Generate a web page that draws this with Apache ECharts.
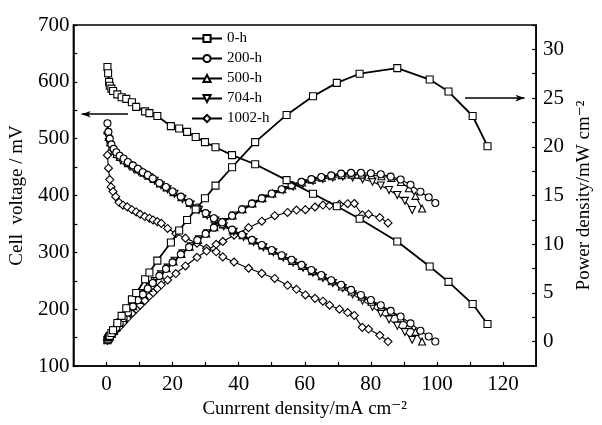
<!DOCTYPE html>
<html><head><meta charset="utf-8">
<script src="https://cdn.jsdelivr.net/npm/echarts@6/dist/echarts.min.js"></script>
<style>html,body{margin:0;padding:0;background:#fff}#c{width:602px;height:425px}</style>
</head><body><div id="c"></div>
<script>
const seriesNames = ['0-h','200-h','500-h','704-h','1002-h'];
const xTickLabels = [0,20,40,60,80,100,120];
const leftTickLabels = [100,200,300,400,500,600,700];
const rightTickLabels = [0,5,10,15,20,25,30];

const current0h = [0.3,0.5,0.8,1.0,1.5,2.0,3.3,4.6,6.0,7.7,9.0,11.7,13.0,15.4,19.5,22.0,24.4,27.0,29.8,33.0,38.0,45.0,54.5,62.5,69.7,76.6,88.0,97.8,103.5,110.8,115.3];
const voltage0h = [626,615,600,593,588,584,578,573,570,564,556,548,545,540,522,518,512,503,494,485,471,455,427,403,381,359,319,275,248,209,174];
const power0h = [0.19,0.31,0.48,0.59,0.88,1.17,1.91,2.64,3.42,4.34,5.00,6.41,7.09,8.32,10.18,11.40,12.49,13.58,14.72,16.01,17.90,20.48,23.27,25.19,26.56,27.50,28.07,26.90,25.67,23.16,20.06];

const current200h = [0.3,0.6,1.0,1.5,2.2,3.0,4.0,5.2,6.5,8.0,9.5,11,12.5,14,16,18,20,22.5,25,27.5,30,32.5,35,38,41,44,47,50,53,56,59,62,65,68,71,74,77,80,83,86,89,92,95,97.5,99.5];
const voltage200h = [527,512,500,490,482,476,470,465,459,453,447,441,436,430,422,415,407,398,388,379,369,360,350,340,331,322,313,304,295,287,278,269,260,251,243,234,225,216,207,197,187,175,162,152,143];
const power200h = [0.16,0.31,0.50,0.74,1.06,1.43,1.88,2.42,2.98,3.62,4.25,4.85,5.45,6.02,6.75,7.47,8.14,8.96,9.70,10.42,11.07,11.70,12.25,12.92,13.57,14.17,14.71,15.20,15.64,16.07,16.40,16.68,16.90,17.07,17.25,17.32,17.33,17.28,17.18,16.94,16.64,16.10,15.39,14.82,14.23];

const current500h = [0.3,0.7,1.1,1.6,2.3,3.1,4.1,5.3,6.6,8.1,9.6,11.2,12.7,14.3,16.2,18.2,20.3,22.7,25.2,27.7,30.2,32.7,35.2,38.2,41.2,44.2,47.2,50.2,53.2,56.2,59.2,62.2,65.2,68.2,71.2,74.2,77.2,80.2,83.2,86.2,89.1,91.5,93.5,95.5];
const voltage500h = [515,503,494,486,479,473,468,462,457,451,446,440,435,429,421,414,406,397,387,378,368,359,349,339,330,321,312,303,294,285,276,267,258,249,240,231,222,213,204,195,184,172,160,143];
const power500h = [0.15,0.35,0.54,0.78,1.10,1.47,1.92,2.45,3.02,3.65,4.28,4.93,5.52,6.13,6.82,7.53,8.24,9.01,9.75,10.47,11.11,11.74,12.28,12.95,13.60,14.19,14.73,15.21,15.64,16.02,16.34,16.61,16.82,16.98,17.09,17.14,17.14,17.08,16.97,16.81,16.39,15.74,14.96,13.66];

const current704h = [0.3,0.7,1.2,1.8,2.5,3.3,4.3,5.5,6.8,8.3,9.8,11.4,13,14.6,16.5,18.5,20.6,23,25.5,28,30.5,33,35.5,38.5,41.5,44.5,47.5,50.5,53.5,56.5,59.5,62.5,65.5,68.5,71.5,74.5,77.5,80.5,83,85.5,88,90.3,92.5];
const voltage704h = [505,494,486,479,473,468,463,458,453,447,442,437,432,426,418,411,403,394,384,375,365,356,346,336,327,318,309,300,291,282,273,264,255,246,237,226,215,204,193,182,171,160,146];
const power704h = [0.15,0.35,0.58,0.86,1.18,1.54,1.99,2.52,3.08,3.71,4.33,4.98,5.62,6.22,6.90,7.60,8.30,9.06,9.79,10.50,11.13,11.75,12.28,12.94,13.57,14.15,14.68,15.15,15.57,15.93,16.24,16.50,16.70,16.85,16.95,16.84,16.66,16.42,16.02,15.56,15.05,14.45,13.51];

const current1002h = [0.3,0.6,1.0,1.4,2.0,2.8,3.8,5.0,6.3,7.7,9.0,10.2,11.6,13.0,14.1,15.4,16.6,18.5,21.0,23.9,27.4,30.3,33.2,35.2,38.6,43.0,47.0,50.9,54.8,57.5,60.2,63.1,65.5,67.5,70.5,73.0,75.0,77.4,79.3,82.7,85.2];
const voltage1002h = [471,448,428,415,407,398,388,383,380,375,371,367,363,360,357,354,351,342,333,325,316,307,301,292,283,272,263,254,242,235,225,219,214,207,200,194,189,168,165,154,143];
const power1002h = [0.14,0.27,0.43,0.58,0.81,1.11,1.47,1.92,2.39,2.89,3.34,3.74,4.21,4.68,5.03,5.45,5.83,6.33,6.99,7.77,8.66,9.30,9.99,10.28,10.92,11.70,12.36,12.93,13.26,13.51,13.55,13.82,14.02,13.97,14.10,14.16,14.18,13.00,13.08,12.74,12.18];

const FONT = '"Liberation Serif","DejaVu Serif",serif';
const styles = [
  {symbol:'rect', size:7, rotate:0, width:1.8},
  {symbol:'circle', size:7, rotate:0, width:1.1},
  {symbol:'triangle', size:7, rotate:0, width:1.1},
  {symbol:'triangle', size:7, rotate:180, width:1.1},
  {symbol:'diamond', size:8, rotate:0, width:1.1}
];
const groups = [
  [current0h, voltage0h, power0h],
  [current200h, voltage200h, power200h],
  [current500h, voltage500h, power500h],
  [current704h, voltage704h, power704h],
  [current1002h, voltage1002h, power1002h]
];

function mk(i, axis, ys) {
  const s = styles[i];
  const xs = groups[i][0];
  return {
    type:'line', name:seriesNames[i], yAxisIndex:axis,
    data: xs.map((x,k)=>[x, ys[k]]),
    symbol:s.symbol, symbolSize:s.size, symbolRotate:s.rotate, showAllSymbol:true,
    lineStyle:{color:'#000', width:s.width},
    itemStyle:{color:'#fff', borderColor:'#000', borderWidth:1.1},
    emphasis:{disabled:true}, animation:false, z: 10 - i
  };
}
const series = [];
for (let i = 0; i < 5; i++) {
  series.push(mk(i, 0, groups[i][1]));
}
for (let i = 0; i < 5; i++) {
  series.push(mk(i, 1, groups[i][2]));
}
// annotation arrows
series[0].markLine = {
  silent:true, symbol:['none','arrow'], symbolSize:[5,9], label:{show:false},
  lineStyle:{color:'#000', width:1.5, type:'solid'},
  data:[[{coord:[6.5,543]},{coord:[-7.5,543]}]]
};
series[5].markLine = {
  silent:true, symbol:['none','arrow'], symbolSize:[5,9], label:{show:false},
  lineStyle:{color:'#000', width:1.5, type:'solid'},
  data:[[{coord:[108.5,25]},{coord:[126.5,25]}]]
};

const tickRange = (a,b,s)=>{const r=[];for(let v=a;v<=b+1e-9;v+=s)r.push(+v.toFixed(2));return r;};

const chart = echarts.init(document.getElementById('c'), null, {renderer:'canvas'});
chart.setOption({
  animation:false,
  backgroundColor:'#fff',
  textStyle:{fontFamily:FONT},
  grid:{left:73, right:53, top:25, bottom:59, show:true, borderColor:'#000', borderWidth:1.5},
  legend:{
    data:seriesNames, orient:'vertical', left:186, top:26,
    itemWidth:30, itemHeight:9, itemGap:5,
    textStyle:{fontFamily:FONT, fontSize:15, color:'#000'},
    selectedMode:false
  },
  xAxis:{
    type:'value', min:-10, max:130,
    axisLine:{onZero:false, lineStyle:{color:'#000', width:1.5}},
    axisTick:{inside:true, length:4, lineStyle:{color:'#000', width:1.2}, customValues:tickRange(0,120,10)},
    axisLabel:{customValues:xTickLabels, fontSize:21, color:'#000', fontFamily:FONT, margin:8},
    splitLine:{show:false},
    name:'Cunrrent density/mA cm⁻²', nameLocation:'middle', nameGap:34,
    nameTextStyle:{fontSize:19, color:'#000', fontFamily:FONT}
  },
  yAxis:[{
    type:'value', min:100, max:700, position:'left',
    axisLine:{show:true, onZero:false, lineStyle:{color:'#000', width:1.5}},
    axisTick:{show:true, inside:true, length:4, lineStyle:{color:'#000', width:1.2}, customValues:tickRange(100,700,50)},
    axisLabel:{customValues:leftTickLabels, fontSize:21, color:'#000', fontFamily:FONT, margin:4},
    splitLine:{show:false},
    name:'Cell  voltage / mV', nameLocation:'middle', nameGap:44, nameRotate:90,
    nameTextStyle:{fontSize:19, color:'#000', fontFamily:FONT}
  },{
    type:'value', min:-2.5, max:32.5, position:'right',
    axisLine:{show:true, onZero:false, lineStyle:{color:'#000', width:1.5}},
    axisTick:{show:true, inside:true, length:4, lineStyle:{color:'#000', width:1.2}, customValues:tickRange(0,32.5,2.5)},
    axisLabel:{customValues:rightTickLabels, fontSize:21, color:'#000', fontFamily:FONT, margin:7},
    splitLine:{show:false},
    name:'Power density/mW cm⁻²', nameLocation:'middle', nameGap:34, nameRotate:90,
    nameTextStyle:{fontSize:19, color:'#000', fontFamily:FONT}
  }],
  series:series
});
</script></body></html>
